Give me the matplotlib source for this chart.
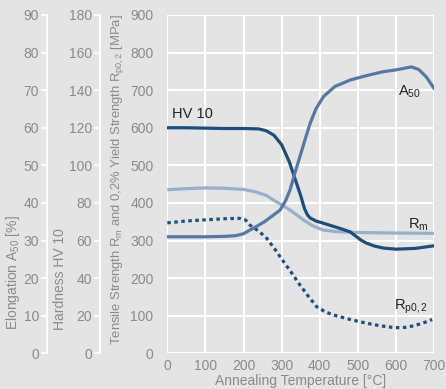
import matplotlib
matplotlib.use("Agg")
import matplotlib.pyplot as plt

plt.rcParams['font.family'] = ['Liberation Sans', 'DejaVu Sans']
plt.rcParams['mathtext.fontset'] = 'custom'
plt.rcParams['mathtext.rm'] = 'Liberation Sans'
plt.rcParams['mathtext.it'] = 'Liberation Sans:italic'
plt.rcParams['mathtext.bf'] = 'Liberation Sans:bold'

# Hardness HV 10
t_hv = [0, 50, 100, 150, 200, 240, 260, 280, 300, 320, 340, 350, 360, 368, 375,
        390, 410, 435, 460, 480, 497, 510, 523, 545, 567, 600, 650, 700]
hv10 = [120, 120, 119.8, 119.6, 119.6, 119.4, 118.4, 116, 111, 102, 90, 84, 77,
        73.6, 72, 70.4, 69.2, 67.6, 66, 64.6, 62, 60, 58.6, 57, 56, 55.4, 55.8, 57.2]

# Elongation A50 [%]
t_a50 = [0, 50, 100, 150, 180, 200, 217, 235, 255, 275, 296, 310, 322, 335, 348,
         362, 375, 390, 410, 440, 480, 520, 566, 600, 641, 660, 680, 700]
a50 = [31, 31, 31, 31.1, 31.3, 31.8, 32.8, 33.8, 35, 36.5, 38.1, 40.5, 43.4, 48,
       52.3, 57, 61.2, 65, 68.3, 71, 72.7, 73.8, 74.9, 75.4, 76.2, 75.5, 73.5, 70.5]

# Tensile strength Rm [MPa]
t_rm = [0, 50, 100, 150, 200, 230, 260, 278, 300, 322, 340, 357, 380, 409, 440,
        480, 520, 600, 700]
rm = [435, 438, 440, 439, 436, 430, 420, 408, 395, 381, 368, 355, 340, 328, 324,
      322, 321, 320, 319]

# 0,2% yield strength Rp0,2 [MPa]
t_rp = [0, 50, 100, 150, 190, 205, 217, 240, 261, 283, 305, 327, 348, 370, 392,
        415, 436, 480, 523, 560, 598, 625, 646, 670, 695]
rp02 = [347, 352, 355, 358, 359, 355, 341, 325, 306, 276, 244, 213, 182, 152, 124,
        110, 102, 90, 80, 73, 68, 69, 73, 80, 90]

x_ticks = [0, 100, 200, 300, 400, 500, 600, 700]
y_ticks = [0, 100, 200, 300, 400, 500, 600, 700, 800, 900]
hv_ticks = [0, 20, 40, 60, 80, 100, 120, 140, 160, 180]
a50_ticks = [0, 10, 20, 30, 40, 50, 60, 70, 80, 90]

BG = '#e4e4e5'
TICKC = '#8a8a8a'
C_HV = '#1e4d78'
C_A50 = '#5679a3'
C_RM = '#98b0ca'
C_RP = '#1f4f80'

fig = plt.figure(figsize=(4.46, 3.89), dpi=100, facecolor=BG)
rect = [167.3 / 446, 1 - 353.3 / 389, 266.7 / 446, 338.3 / 389]
ax = fig.add_axes(rect)
ax.set_facecolor(BG)
ax.set_xlim(0, 700)
ax.set_ylim(0, 900)
ax.set_xticks(x_ticks)
ax.set_yticks(y_ticks)
for s in ax.spines.values():
    s.set_visible(False)
ax.grid(True, color='white', lw=1.5)
ax.set_axisbelow(True)
ax.tick_params(axis='both', length=0, colors=TICKC, labelsize=10)
ax.tick_params(axis='y', pad=10)
ax.tick_params(axis='x', pad=4)
ax.set_xlabel('Annealing Temperature [°C]', color=TICKC, fontsize=10, labelpad=1)

ax.plot(t_rm, rm, color=C_RM, lw=2.3, solid_capstyle='butt', zorder=3)
ax.plot(t_rp, rp02, color=C_RP, lw=2.3, linestyle=(0, (1.1, 1.1)), zorder=3)

ax_h = fig.add_axes(rect, sharex=ax, label='hardness', facecolor='none')
ax_h.set_ylim(0, 180)
ax_h.set_yticks(hv_ticks)
ax_e = fig.add_axes(rect, sharex=ax, label='elongation', facecolor='none')
ax_e.set_ylim(0, 90)
ax_e.set_yticks(a50_ticks)
for a, off in ((ax_h, -67 / 266.7), (ax_e, -120 / 266.7)):
    a.patch.set_visible(False)
    a.xaxis.set_visible(False)
    for s in a.spines.values():
        s.set_visible(False)
    a.spines['left'].set_visible(True)
    a.spines['left'].set_position(('axes', off))
    a.spines['left'].set_color('white')
    a.spines['left'].set_linewidth(1.5)
    a.yaxis.set_ticks_position('left')
    a.tick_params(axis='y', length=4, width=1.2, color='white', labelcolor=TICKC,
                  labelsize=10, pad=2)

ax_h.plot(t_hv, hv10, color=C_HV, lw=2.3, zorder=3)
ax_e.plot(t_a50, a50, color=C_A50, lw=2.3, zorder=3)

ax.text(12, 625, 'HV 10', fontsize=10.5, color='#222222', ha='left', va='baseline')
ax.text(605, 685, r'A$_{\mathrm{50}}$', fontsize=10.5, color='#222222', ha='left', va='baseline')
ax.text(632, 333, r'R$_{\mathrm{m}}$', fontsize=10.5, color='#222222', ha='left', va='baseline')
ax.text(596, 115, r'R$_{\mathrm{p0,2}}$', fontsize=10.5, color='#222222', ha='left', va='baseline')

fig.text(13 / 446, 1 - 330 / 389, r'Elongation A$_{\mathrm{50}}$ [%]', rotation=90,
         ha='center', va='bottom', color=TICKC, fontsize=10)
fig.text(60 / 446, 1 - 330 / 389, 'Hardness HV 10', rotation=90,
         ha='center', va='bottom', color=TICKC, fontsize=10)
fig.text(118 / 446, 1 - 345 / 389,
         r'Tensile Strength R$_{\mathrm{m}}$ and 0,2% Yield Strength R$_{\mathrm{p0,2}}$ [MPa]',
         rotation=90, ha='center', va='bottom', color=TICKC, fontsize=9.4)

fig.savefig('out.png', dpi=100, facecolor=BG)
